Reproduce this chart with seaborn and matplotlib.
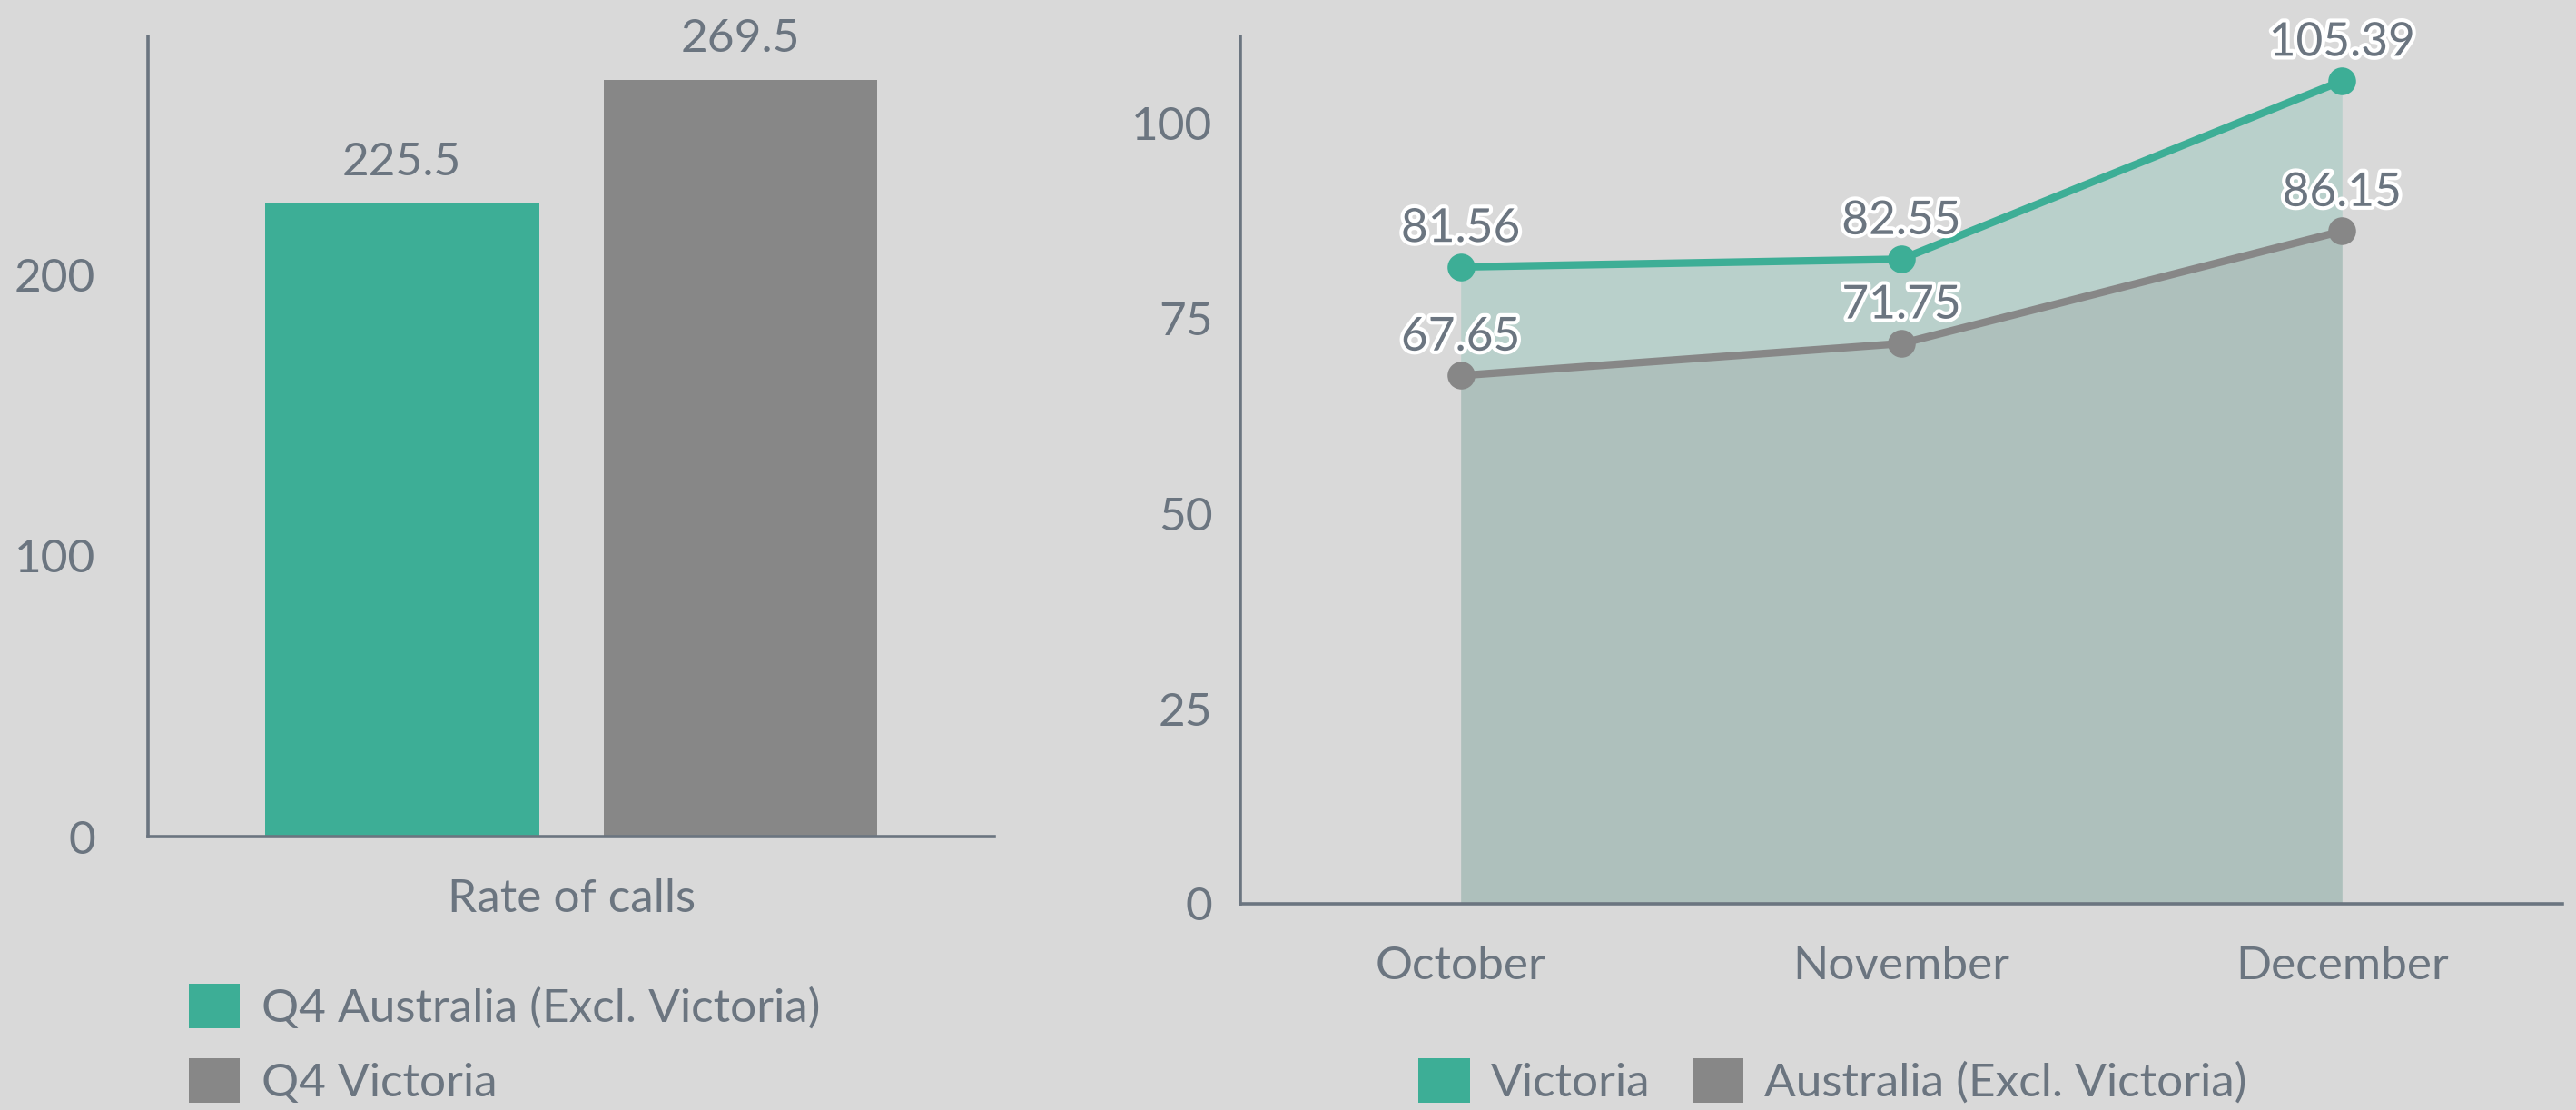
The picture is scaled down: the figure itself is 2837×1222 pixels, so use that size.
import matplotlib
matplotlib.use("Agg")
import matplotlib.pyplot as plt
import matplotlib.patheffects as pe
from matplotlib.patches import Patch
import seaborn as sns
import pandas as pd

# ---- data ----
bar_category = ["Rate of calls"]
bar_series = ["Q4 Australia (Excl. Victoria)", "Q4 Victoria"]
bar_values = [225.5, 269.5]

months = ["October", "November", "December"]
victoria = [81.56, 82.55, 105.39]
australia = [67.65, 71.75, 86.15]
line_series = ["Victoria", "Australia (Excl. Victoria)"]

GREEN = "#3dae96"
GRAY = "#878787"
BG = "#d9d9d9"
TXT = "#6b7580"
FS = 37

sns.set_theme(style="white")
plt.rcParams["font.family"] = ["Lato", "DejaVu Sans"]
plt.rcParams["text.color"] = TXT
plt.rcParams["axes.labelcolor"] = TXT
plt.rcParams["xtick.color"] = TXT
plt.rcParams["ytick.color"] = TXT

fig = plt.figure(figsize=(28.37, 12.22), dpi=100, facecolor=BG)

# ---------------- left: bar chart ----------------
ax1 = fig.add_axes([0.0575, 0.2463, 0.3285, 0.721])
ax1.set_facecolor(BG)
bar_df = pd.DataFrame({"cat": bar_category * len(bar_series),
                       "series": bar_series,
                       "value": bar_values})
sns.barplot(data=bar_df, x="cat", y="value", hue="series",
            palette=[GREEN, GRAY], width=0.8, gap=0.19, saturation=1,
            linewidth=0, edgecolor="none", legend=False, ax=ax1)
for c in ax1.containers:
    ax1.bar_label(c, labels=[f"{v:.1f}" for v in c.datavalues],
                  padding=16, fontsize=FS, color=TXT)
ax1.set_ylim(0, 285)
ax1.set_xlim(-0.5, 0.5)
ax1.set_yticks([0, 100, 200])
ax1.set_xlabel("")
ax1.set_ylabel("")
ax1.tick_params(axis="y", length=0, labelsize=FS, pad=42)
ax1.tick_params(axis="x", length=0, labelsize=FS, pad=33)
for s in ["top", "right"]:
    ax1.spines[s].set_visible(False)
for s in ["left", "bottom"]:
    ax1.spines[s].set_color(TXT)
    ax1.spines[s].set_linewidth(2.6)

leg1 = fig.legend(handles=[Patch(facecolor=GREEN, edgecolor="none", label=bar_series[0]),
                           Patch(facecolor=GRAY, edgecolor="none", label=bar_series[1])],
                  loc="upper left", bbox_to_anchor=(0.0733, 0.114), frameon=False,
                  fontsize=FS, handlelength=1.1, handleheight=1.1,
                  handletextpad=0.45, labelspacing=0.6, borderpad=0, borderaxespad=0)

# ---------------- right: line / area chart ----------------
ax2 = fig.add_axes([0.4815, 0.1858, 0.5132, 0.7815])
ax2.set_facecolor(BG)
line_df = pd.DataFrame({"month": months * 2,
                        "value": victoria + australia,
                        "series": [line_series[0]] * 3 + [line_series[1]] * 3})
ax2.fill_between(months, 0, victoria, color=GREEN, alpha=0.2, linewidth=0, zorder=1)
ax2.fill_between(months, 0, australia, color=GRAY, alpha=0.21, linewidth=0, zorder=1)
sns.lineplot(data=line_df, x="month", y="value", hue="series",
             palette=[GREEN, GRAY], sort=False, marker="o", markersize=22,
             markeredgewidth=0, linewidth=6, legend=False, ax=ax2, zorder=3)

for vals in (victoria, australia):
    for m, v in zip(months, vals):
        ax2.annotate(f"{v:.2f}", xy=(m, v), xytext=(0, 30), textcoords="offset points",
                     ha="center", va="center", fontsize=FS, color=TXT, zorder=5,
                     path_effects=[pe.withStroke(linewidth=6, foreground="white")])

ax2.set_xlim(-0.5, 2.5)
ax2.set_ylim(0, 111.1)
ax2.set_yticks([0, 25, 50, 75, 100])
ax2.set_xlabel("")
ax2.set_ylabel("")
ax2.tick_params(axis="y", length=0, labelsize=FS, pad=22)
ax2.tick_params(axis="x", length=0, labelsize=FS, pad=33)
for s in ["top", "right"]:
    ax2.spines[s].set_visible(False)
for s in ["left", "bottom"]:
    ax2.spines[s].set_color(TXT)
    ax2.spines[s].set_linewidth(2.6)

leg2 = fig.legend(handles=[Patch(facecolor=GREEN, edgecolor="none", label=line_series[0]),
                           Patch(facecolor=GRAY, edgecolor="none", label=line_series[1])],
                  loc="upper center", bbox_to_anchor=(0.7115, 0.047), ncol=2, frameon=False,
                  fontsize=FS, handlelength=1.1, handleheight=1.1,
                  handletextpad=0.45, columnspacing=0.9, borderpad=0, borderaxespad=0)

fig.savefig("out.png", dpi=100, facecolor=BG)
